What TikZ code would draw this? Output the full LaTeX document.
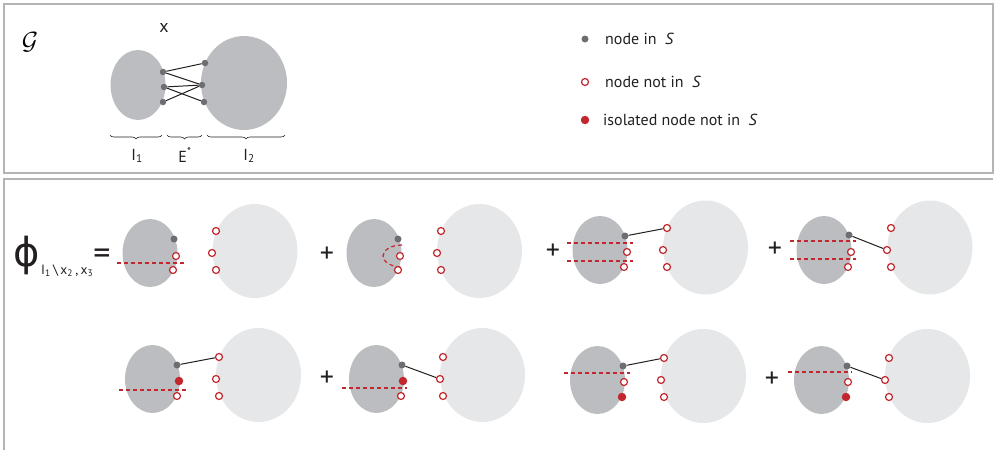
\documentclass[tikz,border=0pt]{standalone}
\usepackage{fontspec}
\setmainfont{PT Sans}
\newfontfamily\phifont{DejaVu Sans}
\usetikzlibrary{shapes.geometric,decorations.pathreplacing}
\definecolor{blobdark}{HTML}{BCBDC0}
\definecolor{bloblight}{HTML}{E6E7E8}
\definecolor{dotgray}{HTML}{6D6E71}
\definecolor{cutred}{HTML}{C1272D}
\definecolor{edgeblack}{HTML}{231F20}
\definecolor{framegray}{HTML}{B4B4B4}
\begin{document}
\begin{tikzpicture}[x=1pt,y=-1pt,
  blobL/.style={ellipse, fill=blobdark, inner sep=0, minimum width=55, minimum height=68},
  blobR/.style={ellipse, fill=bloblight, inner sep=0, minimum width=85, minimum height=94},
  blobT/.style={ellipse, fill=blobdark, inner sep=0},
  sdot/.style={circle, fill=dotgray, inner sep=0, minimum size=7},
  tdot/.style={circle, fill=dotgray, inner sep=0, minimum size=6.5},
  odot/.style={circle, draw=cutred, fill=white, line width=1.2pt, inner sep=0, minimum size=7},
  idot/.style={circle, fill=cutred, inner sep=0, minimum size=8.5},
  link/.style={draw=edgeblack, line width=1pt},
  cut/.style={draw=cutred, line width=1.2pt, dash pattern=on 4pt off 3pt},
  plussign/.style={font=\fontsize{28}{28}\selectfont, inner sep=0, text=edgeblack},
  legtext/.style={anchor=west, font=\fontsize{16}{18}\selectfont, inner sep=0, text=edgeblack},
  brc/.style={draw=edgeblack, line width=0.6pt, decorate, decoration={brace, amplitude=4pt, mirror}},
  frame/.style={draw=framegray, line width=1.2pt},
  toplabel/.style={font=\fontsize{16}{16}\selectfont, inner sep=0, text=edgeblack}
]
\useasboundingbox (0,0) rectangle (994,450);
% frames
\draw[frame] (4,4) rectangle (993,173);
\draw[frame] (4,450) -- (4,179) -- (993,179);

% ---------- top panel ----------
\node[font=\fontsize{26}{26}\selectfont, inner sep=0] (G) at (30,42) {$\mathcal{G}$};
\node[font=\fontsize{18}{18}\selectfont, inner sep=0, text=edgeblack] (X) at (164,28) {x};
\node[blobT, minimum width=55, minimum height=70] (I1) at (138,85) {};
\node[blobT, minimum width=86, minimum height=94] (I2) at (244,83) {};
\node[tdot] (t1) at (163,72) {};
\node[tdot] (t2) at (164,87) {};
\node[tdot] (t3) at (163,102) {};
\node[tdot] (u1) at (205,63) {};
\node[tdot] (u2) at (202,85) {};
\node[tdot] (u3) at (204,102) {};
\draw[link] (t1) -- (u1);
\draw[link] (t1) -- (u2);
\draw[link] (t2) -- (u2);
\draw[link] (t2) -- (u3);
\draw[link] (t3) -- (u2);
\coordinate (b1s) at (110,135); \coordinate (b1e) at (162,135);
\coordinate (b2s) at (167,135); \coordinate (b2e) at (202,135);
\coordinate (b3s) at (207,135); \coordinate (b3e) at (285,135);
\draw[brc] (b1s) -- (b1e);
\draw[brc] (b2s) -- (b2e);
\draw[brc] (b3s) -- (b3e);
\node[toplabel] (lI1) at (137,156) {I\textsubscript{1}};
\node[toplabel] (lE) at (185,155) {E\textsuperscript{*}};
\node[toplabel] (lI2) at (249,156) {I\textsubscript{2}};

% legend
\node[sdot] (lg1) at (585,39) {};
\node[legtext] (lt1) at (605,39) {node in\ \ \textit{S}};
\node[odot] (lg2) at (585,82) {};
\node[legtext] (lt2) at (605,82) {node not in\ \ \textit{S}};
\node[idot] (lg3) at (585,120) {};
\node[legtext] (lt3) at (603,120) {isolated node not in\ \ \textit{S}};

% ---------- formula ----------
\node[font=\phifont\fontsize{40}{40}\selectfont, inner sep=0, text=edgeblack] (phi) at (27,255) {ϕ};
\node[anchor=base west, font=\fontsize{13.5}{13.5}\selectfont, inner sep=0, text=edgeblack] (sub) at (41,274)
  {I\textsubscript{1}\,\textbackslash\,x\textsubscript{2}\,,\,x\textsubscript{3}};
\node[font=\fontsize{34}{34}\selectfont, inner sep=0, text=edgeblack] (eq) at (102,257) {=};

% ---------- D1 ----------
\node[blobL] (d1L) at (150,253) {};
\node[blobR] (d1R) at (255,251) {};
\draw[cut] (117,263) -- (184,263);
\node[sdot] (d1a) at (174,239) {};
\node[odot] (d1b) at (176,256) {};
\node[odot] (d1c) at (173,270) {};
\node[odot] (d1p) at (216,231) {};
\node[odot] (d1q) at (212,253) {};
\node[odot] (d1r) at (216,270) {};

% ---------- D2 ----------
\node[plussign] (p2) at (327,255) {+};
\node[blobL] (d2L) at (374,253) {};
\node[blobR] (d2R) at (479.5,251) {};
\draw[cut] (402,245) arc[start angle=-90, end angle=-270, x radius=19, y radius=11];
\node[sdot] (d2a) at (398,239) {};
\node[odot] (d2b) at (400,256) {};
\node[odot] (d2c) at (398,270) {};
\node[odot] (d2p) at (441,231) {};
\node[odot] (d2q) at (437,253) {};
\node[odot] (d2r) at (441,270) {};

% ---------- D3 ----------
\node[plussign] (p3) at (553,252) {+};
\node[blobL] (d3L) at (600,250) {};
\node[blobR] (d3R) at (705.5,247.5) {};
\draw[cut] (567,243) -- (633,243);
\draw[cut] (567,261) -- (633,261);
\node[sdot] (d3a) at (625,236) {};
\node[odot] (d3b) at (627,252) {};
\node[odot] (d3c) at (624,267) {};
\node[odot] (d3p) at (667,228) {};
\node[odot] (d3q) at (663,250) {};
\node[odot] (d3r) at (667,267) {};
\draw[link] (d3a) -- (d3p);

% ---------- D4 ----------
\node[plussign] (p4) at (775,250) {+};
\node[blobL] (d4L) at (824,250) {};
\node[blobR] (d4R) at (930,247.5) {};
\draw[cut] (790,241) -- (856,241);
\draw[cut] (790,259) -- (856,259);
\node[sdot] (d4a) at (849,235) {};
\node[odot] (d4b) at (851,252) {};
\node[odot] (d4c) at (848,267) {};
\node[odot] (d4p) at (891,228) {};
\node[odot] (d4q) at (887,250) {};
\node[odot] (d4r) at (891,267) {};
\draw[link] (d4a) -- (d4q);

% ---------- D5 ----------
\node[blobL] (d5L) at (152.5,379) {};
\node[blobR] (d5R) at (258.5,375) {};
\draw[cut] (119,390) -- (186,390);
\node[sdot] (d5a) at (177,365) {};
\node[idot] (d5b) at (179,381) {};
\node[odot] (d5c) at (177,396) {};
\node[odot] (d5p) at (219,357) {};
\node[odot] (d5q) at (216,379) {};
\node[odot] (d5r) at (219,396) {};
\draw[link] (d5a) -- (d5p);

% ---------- D6 ----------
\node[plussign] (p6) at (327,379) {+};
\node[blobL] (d6L) at (376.5,379) {};
\node[blobR] (d6R) at (482.5,375) {};
\draw[cut] (342,388) -- (407,388);
\node[sdot] (d6a) at (402,365) {};
\node[idot] (d6b) at (403,381) {};
\node[odot] (d6c) at (401,396) {};
\node[odot] (d6p) at (443,357) {};
\node[odot] (d6q) at (440,379) {};
\node[odot] (d6r) at (443,396) {};
\draw[link] (d6a) -- (d6q);

% ---------- D7 ----------
\node[blobL] (d7L) at (597.5,380) {};
\node[blobR] (d7R) at (703.5,376) {};
\draw[cut] (564,373) -- (630,373);
\node[sdot] (d7a) at (623,366) {};
\node[odot] (d7b) at (624,382) {};
\node[idot] (d7c) at (622,397) {};
\node[odot] (d7p) at (664,358) {};
\node[odot] (d7q) at (661,380) {};
\node[odot] (d7r) at (664,397) {};
\draw[link] (d7a) -- (d7p);

% ---------- D8 ----------
\node[plussign] (p8) at (772,380) {+};
\node[blobL] (d8L) at (821.5,380) {};
\node[blobR] (d8R) at (927.5,376) {};
\draw[cut] (788,372) -- (852,372);
\node[sdot] (d8a) at (847,366) {};
\node[odot] (d8b) at (848,382) {};
\node[idot] (d8c) at (846,397) {};
\node[odot] (d8p) at (889,358) {};
\node[odot] (d8q) at (885,380) {};
\node[odot] (d8r) at (889,397) {};
\draw[link] (d8a) -- (d8q);
\end{tikzpicture}
\end{document}
